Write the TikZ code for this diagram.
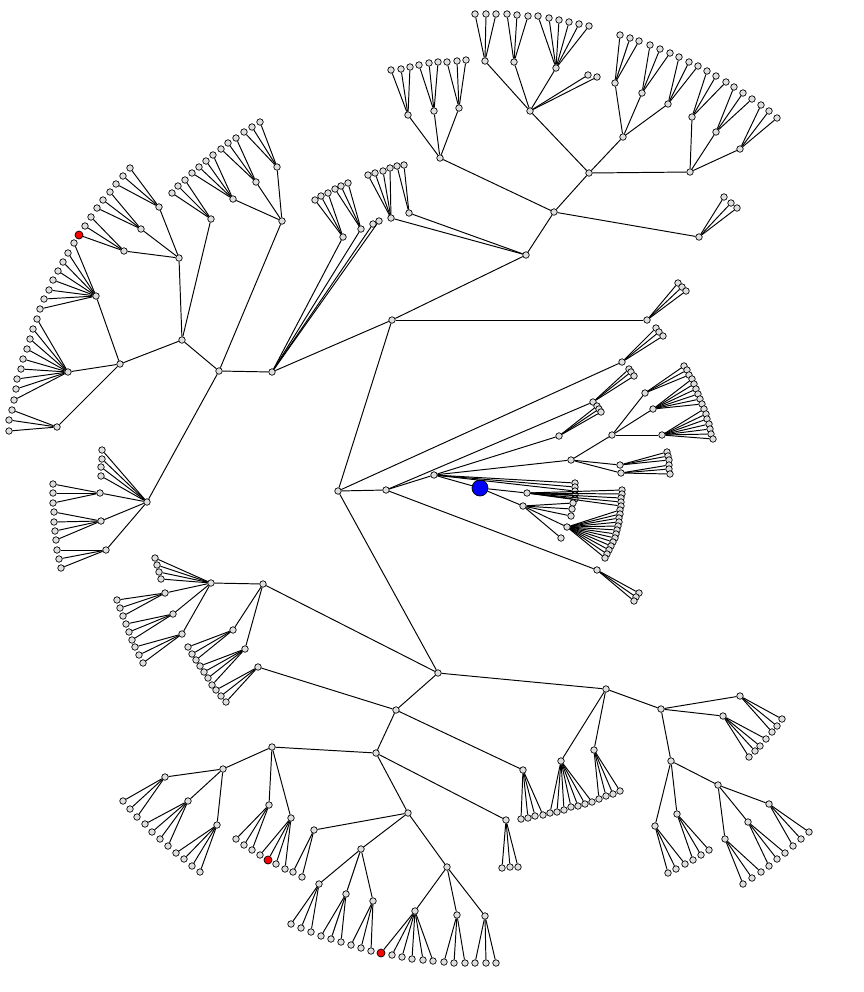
\documentclass[tikz,border=0pt]{standalone}
\usetikzlibrary{positioning}
\definecolor{nodegray}{RGB}{222,222,222}
\tikzset{
  vtx/.style={draw, circle, fill=nodegray, inner sep=0pt, minimum size=0.13cm, line width=0.4pt},
  hit/.style={vtx, fill=red, minimum size=0.16cm},
  src/.style={draw, circle, fill=blue, inner sep=0pt, minimum size=0.32cm, line width=0.4pt},
  edge/.style={draw, line width=0.55pt}
}
% leaves hanging from one parent
\newcommand{\fanout}[2]{%
  \foreach \lx/\ly [count=\k] in {#2} {
    \node[vtx] (#1-\k) at (\lx,\ly) {};
    \draw[edge] (#1) -- (#1-\k);
  }}
\begin{document}
\begin{tikzpicture}[x=0.02cm, y=-0.02cm]
\useasboundingbox (0,0) rectangle (864,992);

% hub
\node[vtx] (root) at (338,491) {};
\node[vtx] (up) at (392,320) {};
\node[vtx] (mid) at (386,490) {};
\node[vtx] (low) at (438,673) {};
\node[vtx] (spur) at (622,362) {};
\node[vtx] (upR) at (647,320) {};

% top branch
\node[vtx] (tp) at (526,255) {};
\node[vtx] (tp1) at (554,212) {};
\node[vtx] (tp2) at (391,218) {};
\node[vtx] (tp3) at (409,213) {};
\node[vtx] (tA) at (440,158) {};
\node[vtx] (tB) at (589,173) {};
\node[vtx] (tC) at (699,237) {};
\node[vtx] (tA1) at (408,115) {};
\node[vtx] (tA2) at (434,111) {};
\node[vtx] (tA3) at (459,108) {};
\node[vtx] (tB1) at (530,111) {};
\node[vtx] (tB2) at (623,137) {};
\node[vtx] (tB3) at (690,172) {};
\node[vtx] (tB11) at (485,61) {};
\node[vtx] (tB12) at (514,62) {};
\node[vtx] (tB13) at (556,68) {};
\node[vtx] (tB21) at (615,83) {};
\node[vtx] (tB22) at (642,93) {};
\node[vtx] (tB23) at (668,104) {};
\node[vtx] (tB31) at (692,117) {};
\node[vtx] (tB32) at (716,132) {};
\node[vtx] (tB33) at (740,149) {};

% left branch
\node[vtx] (lf) at (272,372) {};
\node[vtx] (lf1) at (343,237) {};
\node[vtx] (lf2) at (361,229) {};
\node[vtx] (w) at (219,371) {};
\node[vtx] (w1) at (182,340) {};
\node[vtx] (w2) at (147,502) {};
\node[vtx] (w3) at (282,221) {};
\node[vtx] (w11) at (179,258) {};
\node[vtx] (w12) at (211,219) {};
\node[vtx] (w13) at (120,364) {};
\node[vtx] (w111) at (124,251) {};
\node[vtx] (w112) at (141,229) {};
\node[vtx] (w113) at (159,207) {};
\node[vtx] (w131) at (96,296) {};
\node[vtx] (w132) at (68,372) {};
\node[vtx] (w133) at (57,427) {};
\node[vtx] (w21) at (100,493) {};
\node[vtx] (w22) at (101,521) {};
\node[vtx] (w23) at (106,550) {};
\node[vtx] (w31) at (233,199) {};
\node[vtx] (w32) at (256,182) {};
\node[vtx] (w33) at (277,167) {};

% centre branch
\node[vtx] (ct) at (434,475) {};
\node[vtx] (cS) at (559,436) {};
\node[vtx] (cT) at (571,460) {};
\node[vtx] (cU) at (593,402) {};
\node[vtx] (cV) at (597,570) {};
\node[vtx] (cT1) at (612,435) {};
\node[vtx] (cT2) at (620,465) {};
\node[vtx] (cT3) at (621,473) {};
\node[vtx] (cT11) at (645,393) {};
\node[vtx] (cT12) at (653,409) {};
\node[vtx] (cT13) at (662,435) {};
\node[src] (source) at (480,488) {};
\node[vtx] (s1) at (527,493) {};
\node[vtx] (s2) at (523,506) {};
\node[vtx] (s21) at (567,527) {};
\node[vtx] (s22) at (561,538) {};

% bottom branch
\node[vtx] (b1) at (606,689) {};
\node[vtx] (b2) at (396,710) {};
\node[vtx] (b3) at (263,584) {};
\node[vtx] (b31) at (211,583) {};
\node[vtx] (b32) at (233,630) {};
\node[vtx] (b33) at (245,649) {};
\node[vtx] (b311) at (165,593) {};
\node[vtx] (b312) at (173,614) {};
\node[vtx] (b313) at (182,634) {};
\node[vtx] (b21) at (258,667) {};
\node[vtx] (b22) at (376,753) {};
\node[vtx] (b23) at (523,770) {};
\node[vtx] (b221) at (272,747) {};
\node[vtx] (b222) at (408,813) {};
\node[vtx] (b223) at (506,820) {};
\node[vtx] (b2211) at (223,769) {};
\node[vtx] (b2212) at (269,805) {};
\node[vtx] (b2213) at (291,818) {};
\node[vtx] (b22111) at (165,777) {};
\node[vtx] (b22112) at (188,801) {};
\node[vtx] (b22113) at (217,825) {};
\node[vtx] (b2221) at (314,830) {};
\node[vtx] (b2222) at (361,849) {};
\node[vtx] (b2223) at (447,867) {};
\node[vtx] (b22221) at (319,884) {};
\node[vtx] (b22222) at (346,894) {};
\node[vtx] (b22223) at (373,901) {};
\node[vtx] (b22231) at (415,911) {};
\node[vtx] (b22232) at (457,915) {};
\node[vtx] (b22233) at (485,916) {};
\node[vtx] (b11) at (561,761) {};
\node[vtx] (b12) at (594,750) {};
\node[vtx] (b13) at (661,709) {};
\node[vtx] (b131) at (740,696) {};
\node[vtx] (b132) at (723,716) {};
\node[vtx] (b133) at (671,761) {};
\node[vtx] (b1331) at (655,826) {};
\node[vtx] (b1332) at (677,814) {};
\node[vtx] (b1333) at (718,785) {};
\node[vtx] (b13331) at (725,839) {};
\node[vtx] (b13332) at (748,822) {};
\node[vtx] (b13333) at (769,804) {};

% marked leaves
\node[hit] (redA) at (79,235) {};
\node[hit] (redB) at (268,860) {};
\node[hit] (redC) at (381,953) {};

% inner edges
\foreach \p/\c in {root/up, root/mid, root/low, root/spur, up/upR, up/tp, up/lf,
    tp/tp1, tp/tp2, tp/tp3, tp1/tA, tp1/tB, tp1/tC, tA/tA1, tA/tA2, tA/tA3,
    tB/tB1, tB/tB2, tB/tB3, tB1/tB11, tB1/tB12, tB1/tB13, tB2/tB21, tB2/tB22,
    tB2/tB23, tB3/tB31, tB3/tB32, tB3/tB33,
    lf/lf1, lf/lf2, lf/w, w/w1, w/w2, w/w3, w1/w11, w1/w12, w1/w13,
    w11/w111, w11/w112, w11/w113, w13/w131, w13/w132, w13/w133,
    w2/w21, w2/w22, w2/w23, w3/w31, w3/w32, w3/w33,
    mid/ct, mid/cU, mid/cV, ct/cS, ct/cT, ct/source, cT/cT1, cT/cT2, cT/cT3,
    cT1/cT11, cT1/cT12, cT1/cT13, source/s1, source/s2, s2/s21, s2/s22,
    low/b1, low/b2, low/b3, b3/b31, b3/b32, b3/b33, b31/b311, b31/b312, b31/b313,
    b2/b21, b2/b22, b2/b23, b22/b221, b22/b222, b22/b223,
    b221/b2211, b221/b2212, b221/b2213, b2211/b22111, b2211/b22112, b2211/b22113,
    b222/b2221, b222/b2222, b222/b2223, b2222/b22221, b2222/b22222, b2222/b22223,
    b2223/b22231, b2223/b22232, b2223/b22233,
    b1/b11, b1/b12, b1/b13, b13/b131, b13/b132, b13/b133,
    b133/b1331, b133/b1332, b133/b1333, b1333/b13331, b1333/b13332, b1333/b13333,
    w111/redA, b2213/redB, b22231/redC}
  \draw[edge] (\p) -- (\c);

% leaves
\fanout{spur}{656/328, 659/332, 663/336}
\fanout{upR}{678/283, 682/287, 686/291}
\fanout{tp2}{368/175, 375/173, 383/171, 390/168}
\fanout{tp3}{397/166, 404/165}
\fanout{tC}{724/197, 731/203, 737/208}
\fanout{tA1}{391/70, 401/69, 410/67}
\fanout{tA2}{419/65, 429/63, 438/62}
\fanout{tA3}{447/62, 457/61, 466/60}
\fanout{tB1}{588/75, 597/77}
\fanout{tB11}{475/14, 486/14, 496/14}
\fanout{tB12}{507/14, 517/15, 528/16}
\fanout{tB13}{538/16, 549/18, 559/20, 569/22, 579/24, 589/26}
\fanout{tB21}{620/35, 630/38, 639/41}
\fanout{tB22}{650/45, 660/49, 670/53}
\fanout{tB23}{679/57, 689/62, 698/66}
\fanout{tB31}{707/71, 716/76, 726/82}
\fanout{tB32}{734/87, 743/93, 752/99}
\fanout{tB33}{761/105, 769/111, 777/118}
\fanout{lf}{373/224, 379/221}
\fanout{lf1}{315/200, 321/196, 328/193}
\fanout{lf2}{335/189, 341/186, 348/183}
\fanout{w111}{85/226, 91/217}
\fanout{w112}{97/208, 103/200, 110/192}
\fanout{w113}{116/184, 123/176, 130/168}
\fanout{w12}{172/193, 178/186, 185/180}
\fanout{w131}{74/243, 68/253, 63/262, 58/271, 53/280, 49/290, 44/299, 40/309}
\fanout{w132}{37/319, 33/329, 30/339, 27/349, 23/359, 21/369, 17/379, 16/389, 14/400}
\fanout{w133}{12/410, 9/420, 9/431}
\fanout{w31}{192/173, 199/167, 206/161, 213/155}
\fanout{w32}{221/149, 228/143, 236/138}
\fanout{w33}{244/132, 252/127, 260/122}
\fanout{w2}{102/450, 102/459, 101/467, 101/476}
\fanout{w21}{53/484, 53/493, 53/503}
\fanout{w22}{54/512, 54/522, 55/531, 56/540}
\fanout{w23}{57/550, 59/559, 61/568}
\fanout{cU}{629/369, 631/372, 634/376}
\fanout{cS}{597/406, 599/409, 601/412}
\fanout{cV}{639/593, 636/597, 634/601}
\fanout{cT11}{684/366, 687/370, 689/375}
\fanout{cT12}{692/379, 694/384, 696/389, 698/394, 700/399, 702/404}
\fanout{cT13}{704/409, 706/414, 707/419, 709/424, 710/429, 711/434, 713/439}
\fanout{cT2}{667/452, 668/456, 669/460}
\fanout{cT3}{669/465, 669/469, 670/474}
\fanout{ct}{575/483, 575/487, 575/491}
\fanout{s1}{575/495, 575/499, 622/490, 622/494, 621/498, 621/502, 621/506}
\fanout{s2}{573/503, 572/509, 571/516}
\fanout{s21}{620/510, 620/514, 619/518, 619/522, 618/526, 617/530, 616/534, 615/538, 613/542, 611/546, 609/550, 607/554, 605/558}
\fanout{b31}{155/558, 157/565, 159/572, 161/579}
\fanout{b311}{117/600, 120/608, 123/616}
\fanout{b312}{126/624, 129/632, 132/640}
\fanout{b313}{135/647, 139/655, 143/663}
\fanout{b32}{188/647, 192/654, 196/660}
\fanout{b33}{200/666, 204/672, 208/678, 212/685}
\fanout{b21}{216/690, 221/696, 226/702}
\fanout{b23}{521/819, 528/818, 535/816, 543/815}
\fanout{b223}{502/868, 510/867, 518/867}
\fanout{b2212}{236/839, 244/845, 252/850}
\fanout{b2213}{260/855, 276/864, 285/869}
\fanout{b22111}{123/801, 130/809, 137/817}
\fanout{b22112}{145/824, 152/832, 160/839, 168/846}
\fanout{b22113}{176/853, 184/859, 192/866, 200/872}
\fanout{b2221}{293/872, 302/877}
\fanout{b22221}{291/924, 301/928, 311/932}
\fanout{b22222}{321/936, 331/939, 341/942}
\fanout{b22223}{351/945, 361/948, 371/951}
\fanout{b22231}{392/955, 402/957, 412/959, 423/960, 433/961}
\fanout{b22232}{444/962, 454/963, 465/963}
\fanout{b22233}{475/963, 486/963, 496/963}
\fanout{b11}{550/813, 557/812, 564/810, 571/807, 578/806, 585/804, 592/802}
\fanout{b12}{599/799, 606/796, 613/794, 620/791}
\fanout{b131}{782/719, 777/726, 772/732}
\fanout{b132}{766/739, 760/746, 755/751, 749/757}
\fanout{b1331}{668/873, 676/869, 685/864}
\fanout{b1332}{693/860, 701/855, 709/850}
\fanout{b13331}{743/884, 752/878, 761/872}
\fanout{b13332}{769/866, 777/859, 785/853}
\fanout{b13333}{793/846, 801/839, 809/832}
\end{tikzpicture}
\end{document}
